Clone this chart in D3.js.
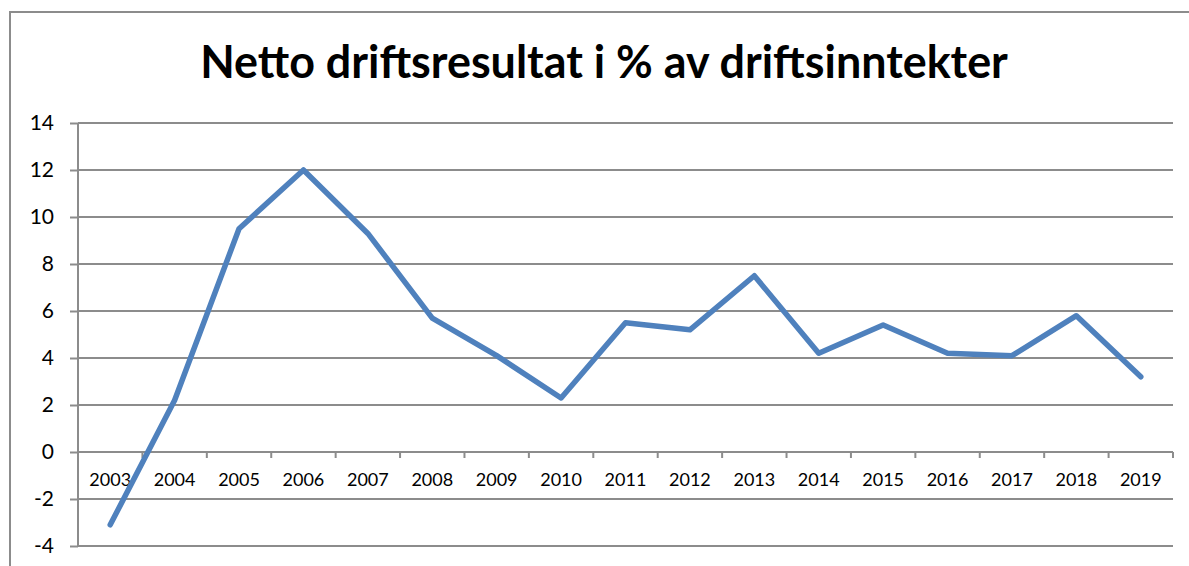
<!DOCTYPE html>
<html>
<head>
<meta charset="utf-8">
<script src="https://cdn.jsdelivr.net/npm/d3@7.9.0/dist/d3.min.js"></script>
<style>
  html, body { margin: 0; padding: 0; background: #fff; }
  svg { display: block; }
  text { font-family: Lato, "Open Sans", sans-serif; fill: #000; }
</style>
</head>
<body>
<svg id="chart" width="1189" height="566"></svg>
<script>
// data
const years = ['2003', '2004', '2005', '2006', '2007', '2008', '2009', '2010', '2011',
  '2012', '2013', '2014', '2015', '2016', '2017', '2018', '2019'];
const values = [-3.1, 2.2, 9.5, 12.0, 9.3, 5.7, 4.1, 2.3, 5.5, 5.2, 7.5, 4.2, 5.4, 4.2, 4.1, 5.8, 3.2];
const yTicks = [-4, -2, 0, 2, 4, 6, 8, 10, 12, 14];
const title = 'Netto driftsresultat i % av driftsinntekter';

const svg = d3.select('#chart');
const gridColor = '#8c8c8c';

// outer chart frame (cut off at right and bottom)
svg.append('path')
  .attr('d', 'M10,580 L10,12 L1200,12')
  .attr('fill', 'none')
  .attr('stroke', gridColor)
  .attr('stroke-width', 2);

// title
const t = svg.append('text')
  .attr('x', 604)
  .attr('y', 78)
  .attr('text-anchor', 'middle')
  .attr('font-size', 42)
  .attr('font-weight', 700)
  .text(title);
// fit the title to the width seen in the reference
const tw = t.node().getComputedTextLength();
t.attr('font-size', 42 * 808 / tw);

const plot = { left: 78, right: 1173, top: 123, bottom: 546 };

const x = d3.scaleBand().domain(years).range([plot.left, plot.right]);
const y = d3.scaleLinear().domain([-4, 14]).range([plot.bottom, plot.top]);

// y axis labels + tick marks
const yAxis = d3.axisLeft(y).tickValues(yTicks).tickSize(8).tickPadding(16)
  .tickFormat(d => String(d));
const gy = svg.append('g').attr('transform', `translate(${plot.left},0)`).call(yAxis);
gy.select('.domain').remove();
gy.selectAll('.tick line').attr('stroke', gridColor).attr('stroke-width', 2);
gy.selectAll('.tick text')
  .attr('fill', '#000')
  .style('font-size', '21px')
  .style('font-family', 'Lato, sans-serif');

// horizontal gridlines
svg.append('g').selectAll('line')
  .data(yTicks)
  .join('line')
  .attr('x1', plot.left).attr('x2', plot.right)
  .attr('y1', d => Math.round(y(d))).attr('y2', d => Math.round(y(d)))
  .attr('stroke', gridColor)
  .attr('stroke-width', 2);

// vertical axis line
svg.append('line')
  .attr('x1', plot.left).attr('x2', plot.left)
  .attr('y1', plot.top).attr('y2', plot.bottom)
  .attr('stroke', gridColor).attr('stroke-width', 2);

// category axis sits at zero
const y0 = Math.round(y(0));
const bounds = years.map(d => x(d)).concat([plot.right]);
svg.append('g').selectAll('line')
  .data(bounds)
  .join('line')
  .attr('x1', d => d).attr('x2', d => d)
  .attr('y1', y0).attr('y2', y0 + 6)
  .attr('stroke', gridColor).attr('stroke-width', 2);

svg.append('g').selectAll('text')
  .data(years)
  .join('text')
  .attr('x', d => x(d) + x.bandwidth() / 2)
  .attr('y', y0 + 34)
  .attr('text-anchor', 'middle')
  .style('font-size', '18px')
  .text(d => d);

// the series line
const line = d3.line()
  .x((d, i) => x(years[i]) + x.bandwidth() / 2)
  .y(d => y(d));

svg.append('path')
  .datum(values)
  .attr('d', line)
  .attr('fill', 'none')
  .attr('stroke', '#4f81bd')
  .attr('stroke-width', 5.5)
  .attr('stroke-linejoin', 'round')
  .attr('stroke-linecap', 'round');
</script>
</body>
</html>
